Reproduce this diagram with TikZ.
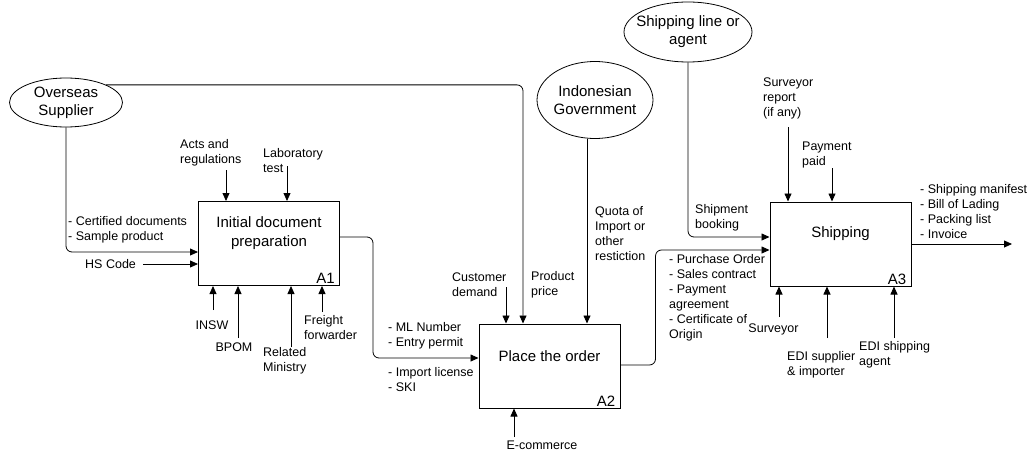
\documentclass[tikz,border=0pt]{standalone}
\usepackage{fontspec}
\setmainfont{Liberation Sans}
\usetikzlibrary{arrows.meta,positioning,shapes.geometric}

\begin{document}
\begin{tikzpicture}[x=1pt,y=-1pt,
lbl/.style={inner sep=0pt,align=left,font=\fontsize{12.5}{15}\selectfont},
act/.style={draw,line width=1pt,minimum width=141pt,minimum height=84pt,inner sep=0pt},
acttxt/.style={inner sep=0pt,align=center,yshift=10pt,font=\fontsize{15}{19}\selectfont},
tag/.style={anchor=south east,inner xsep=5pt,inner ysep=2pt,font=\fontsize{15}{15}\selectfont},
ext/.style={draw,ellipse,line width=0.8pt,inner sep=0pt},
exttxt/.style={inner sep=0pt,align=center,font=\fontsize{15}{18}\selectfont},
arr/.style={-{Triangle[length=8pt,width=7pt]},line width=0.8pt,rounded corners=6pt}]
\useasboundingbox (0,0) rectangle (1028,452);
% outside parties
\node[ext,minimum width=113pt,minimum height=49pt,label={[exttxt]center:Overseas\\Supplier}] (sup) at (66,102.5) {};
\node[ext,minimum width=116pt,minimum height=77pt,label={[exttxt]center:Indonesian\\Government}] (gov) at (595,100) {};
\node[ext,minimum width=128pt,minimum height=60pt,label={[exttxt]center:Shipping line or\\agent}] (ship) at (688,32) {};
% activities
\node[act,label={[acttxt]center:Initial document\\preparation},label={[tag]south east:A1}] (a1) at (269,243.5) {};
\node[act,label={[acttxt]center:Place the order},label={[tag]south east:A2}] (a2) at (549.5,366) {};
\node[act,label={[acttxt]center:Shipping},label={[tag]south east:A3}] (a3) at (840.5,244) {};
% A1 labels
\node[lbl,anchor=west] (cert) at (68,230) {- Certified documents\\- Sample product};
\node[lbl,anchor=west] (hs) at (85,264) {HS Code};
\node[lbl,anchor=west] (acts) at (180,152.5) {Acts and\\regulations};
\node[lbl,anchor=west] (lab) at (263,161) {Laboratory\\test};
\node[lbl] (insw) at (212,325) {INSW};
\node[lbl] (bpom) at (234,347) {BPOM};
\node[lbl,anchor=west] (rel) at (263,360.5) {Related\\Ministry};
\node[lbl,anchor=west] (fwd) at (304,327.5) {Freight\\forwarder};
% A2 labels
\node[lbl,anchor=west] (ml) at (388,335.5) {- ML Number\\- Entry permit};
\node[lbl,anchor=west] (lic) at (388,379.5) {- Import license\\- SKI};
\node[lbl,anchor=west] (dem) at (452,285) {Customer\\demand};
\node[lbl,anchor=west] (price) at (531,285) {Product\\price};
\node[lbl,anchor=west] (quota) at (595,233.5) {Quota of\\Import or\\other\\restiction};
\node[lbl] (ecom) at (542,445) {E-commerce};
% A3 labels
\node[lbl,anchor=west] (book) at (695,217.5) {Shipment\\booking};
\node[lbl,anchor=west] (po) at (669,297.5) {- Purchase Order\\- Sales contract\\- Payment\\agreement\\- Certificate of\\Origin};
\node[lbl,anchor=west] (rep) at (763,98) {Surveyor\\report\\(if any)};
\node[lbl,anchor=west] (paid) at (802,154.5) {Payment\\paid};
\node[lbl,anchor=west] (docs) at (920,212) {- Shipping manifest\\- Bill of Lading\\- Packing list\\- Invoice};
\node[lbl] (surv) at (773.5,329) {Surveyor};
\node[lbl,anchor=west] (edisup) at (787,364.5) {EDI supplier\\\& importer};
\node[lbl,anchor=west] (edishp) at (859,354.5) {EDI shipping\\agent};
% arrow tails
\coordinate (actsin) at (226,170); \coordinate (labin) at (287,166);
\coordinate (inswin) at (213,310); \coordinate (bpomin) at (238,338);
\coordinate (relin) at (291,347); \coordinate (fwdin) at (322,312);
\coordinate (demin) at (506,287); \coordinate (ecomin) at (514,437);
\coordinate (repin) at (788,127); \coordinate (paidin) at (832,168);
\coordinate (survin) at (779,317); \coordinate (edisupin) at (827,338);
\coordinate (edishpin) at (894,338); \coordinate (out) at (1012,244);
% connectors
\draw[arr] (sup.south) |- ([yshift=-8.5pt]a1.west);
\draw[arr] ([xshift=7pt]hs.east) -- (hs -| a1.west);
\draw[arr] (actsin) -- (actsin |- a1.north); \draw[arr] (labin) -- (labin |- a1.north);
\draw[arr] (inswin) -- (inswin |- a1.south); \draw[arr] (bpomin) -- (bpomin |- a1.south);
\draw[arr] (relin) -- (relin |- a1.south); \draw[arr] (fwdin) -- (fwdin |- a1.south);
\draw[arr] ([yshift=6.5pt]a1.east) -- ++(33,0) |- ([yshift=8pt]a2.west);
\draw[arr] (sup.north east) -| ([xshift=-26.5pt]a2.north);
\draw[arr] (demin) -- (demin |- a2.north);
\draw[arr] ([xshift=-8pt]gov.south) -- ([xshift=-8pt]gov.south |- a2.north);
\draw[arr] (ecomin) -- (ecomin |- a2.south);
\draw[arr] ([yshift=1pt]a2.east) -- ++(35,0) |- ([yshift=-6pt]a3.west);
\draw[arr] (ship.south) |- ([yshift=7pt]a3.west);
\draw[arr] (repin) -- (repin |- a3.north); \draw[arr] (paidin) -- (paidin |- a3.north);
\draw[arr] (survin) -- (survin |- a3.south); \draw[arr] (edisupin) -- (edisupin |- a3.south);
\draw[arr] (edishpin) -- (edishpin |- a3.south);
\draw[arr] (a3.east) -- (out);
\end{tikzpicture}
\end{document}
